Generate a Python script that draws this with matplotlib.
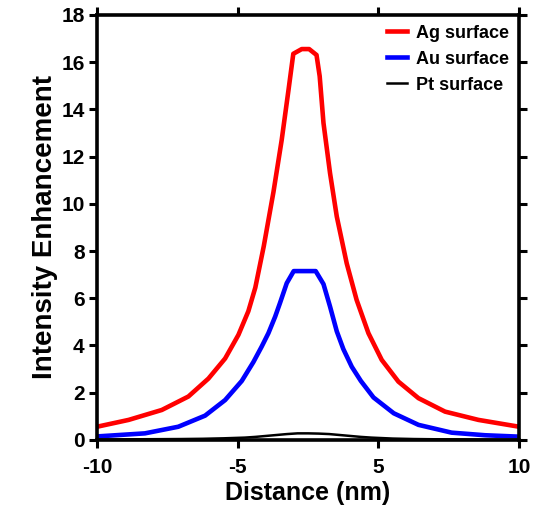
import matplotlib
matplotlib.use("Agg")
import matplotlib.pyplot as plt

# Field-intensity profiles across the gap for three metal surfaces
AG_X = [-10.0, -8.5, -6.93, -5.67, -4.72, -3.93, -3.3, -2.83, -2.5, -2.1, -1.64,
        -1.25, -0.93, -0.7, -0.3, 0.05, 0.4, 0.55, 0.73, 1.04, 1.36, 1.83, 2.3,
        2.86, 3.49, 4.28, 5.23, 6.49, 8.07, 10.0]
AG_Y = [0.56, 0.85, 1.27, 1.84, 2.6, 3.45, 4.45, 5.45, 6.45, 8.2, 10.5,
        12.7, 14.8, 16.35, 16.55, 16.55, 16.3, 15.4, 13.42, 11.3, 9.46, 7.48, 5.93,
        4.52, 3.39, 2.47, 1.77, 1.2, 0.85, 0.56]

AU_X = [-10.0, -7.73, -6.15, -4.88, -3.93, -3.14, -2.59, -2.2, -1.88, -1.56,
        -1.33, -1.01, -0.68, 0.36, 0.73, 1.04, 1.36, 1.67, 2.07, 2.5, 3.1, 4.06,
        5.23, 6.8, 8.39, 10.0]
AU_Y = [0.15, 0.28, 0.56, 1.03, 1.69, 2.5, 3.3, 3.95, 4.52, 5.22,
        5.8, 6.64, 7.15, 7.15, 6.6, 5.65, 4.6, 3.85, 3.1, 2.5, 1.8, 1.13,
        0.64, 0.31, 0.2, 0.14]

PT_X = [-10, -8, -6, -5, -4, -3, -2.5, -2, -1.5, -1, -0.5, 0, 0.5, 1, 1.5, 2,
        2.5, 3, 4, 5, 6, 8, 10]
PT_Y = [0.02, 0.03, 0.04, 0.05, 0.07, 0.1, 0.13, 0.17, 0.21, 0.25, 0.28, 0.28,
        0.27, 0.25, 0.21, 0.17, 0.13, 0.1, 0.06, 0.04, 0.03, 0.02, 0.01]

XTICK_POS = [-10, -10 / 3, 10 / 3, 10]
XTICK_LABELS = ["-10", "-5", "5", "10"]
YTICKS = list(range(0, 19, 2))

plt.rcParams["font.family"] = ["Liberation Sans", "DejaVu Sans"]
plt.rcParams["font.weight"] = "bold"

fig = plt.figure(figsize=(5.33, 5.11), dpi=100)
ax = fig.add_axes([0.182, 0.139, 0.792, 0.832])

ax.plot(AG_X, AG_Y, color="#ff0000", lw=3.3, label="Ag surface")
ax.plot(AU_X, AU_Y, color="#0000ff", lw=3.3, label="Au surface")
ax.plot(PT_X, PT_Y, color="black", lw=1.8, label="Pt surface")

ax.set_xlim(-10, 10)
ax.set_ylim(0, 18)
ax.set_xticks(XTICK_POS)
ax.set_xticklabels(XTICK_LABELS)
ax.set_yticks(YTICKS)

for side in ["left", "right", "top", "bottom"]:
    ax.spines[side].set_linewidth(2.6)

ax.tick_params(axis="both", which="major", direction="out", length=6, width=2.2,
               labelsize=15, top=True, right=True)
ax.tick_params(axis="x", pad=7)
ax.tick_params(axis="y", pad=3)
for lbl in ax.get_xticklabels() + ax.get_yticklabels():
    lbl.set_fontweight("bold")

ax.set_xlabel("Distance (nm)", fontsize=18, fontweight="bold", labelpad=3)
ax.set_ylabel("Intensity Enhancement", fontsize=20, fontweight="bold", labelpad=2)

leg = ax.legend(loc="upper right", frameon=False, fontsize=13, handlelength=1.1,
                handletextpad=0.5, labelspacing=0.5, borderaxespad=0.15)
for t in leg.get_texts():
    t.set_fontweight("bold")

fig.savefig("out.png", dpi=100)
